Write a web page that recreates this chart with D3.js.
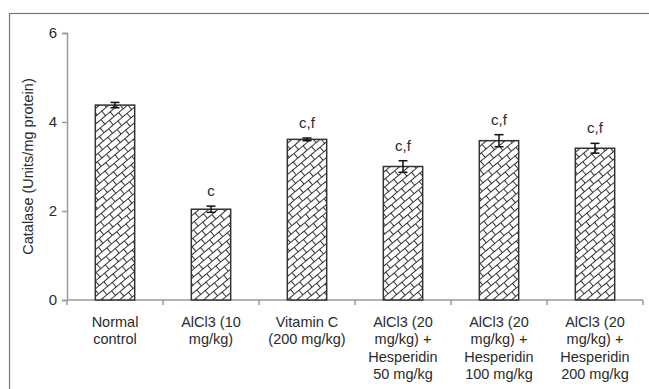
<!DOCTYPE html>
<html lang="en">
<head>
<meta charset="UTF-8">
<title>Catalase</title>
<script src="https://d3js.org/d3.v7.min.js"></script>
<style>
    body { margin: 0; background: #fff; }
    svg { display: block; font-family: "Liberation Sans", Arial, sans-serif; }
</style>
</head>
<body>
<svg id="chart" width="649" height="389"></svg>
<script>
    // data
    const groups = [
        ["Normal", "control"],
        ["AlCl3 (10", "mg/kg)"],
        ["Vitamin C", "(200 mg/kg)"],
        ["AlCl3 (20", "mg/kg) +", "Hesperidin", "50 mg/kg"],
        ["AlCl3 (20", "mg/kg) +", "Hesperidin", "100 mg/kg"],
        ["AlCl3 (20", "mg/kg) +", "Hesperidin", "200 mg/kg"]
    ];
    const means = [4.38, 2.04, 3.61, 3.00, 3.58, 3.41];
    const errors = [0.06, 0.07, 0.03, 0.13, 0.135, 0.11];
    const letters = ["", "c", "c,f", "c,f", "c,f", "c,f"];
    const yTicks = [0, 2, 4, 6];

    const svg = d3.select("#chart");
    const axisGrey = "#9a9a9a";
    const textCol = "#2b2b2b";

    // outer frame
    svg.append("rect")
        .attr("x", 9.5).attr("y", 13.5)
        .attr("width", 700).attr("height", 420)
        .attr("fill", "none")
        .attr("stroke", "#777")
        .attr("stroke-width", 1.2);

    // brick hatch pattern
    const pat = svg.append("defs").append("pattern")
        .attr("id", "brick")
        .attr("patternUnits", "userSpaceOnUse")
        .attr("width", 12).attr("height", 12)
        .attr("patternTransform", "rotate(-40)");
    pat.append("rect").attr("width", 12).attr("height", 12).attr("fill", "#fff");
    pat.append("path")
        .attr("d", "M0,0.5H12M0,6.5H12M0.5,0.5V6.5M6.5,6.5V12")
        .attr("stroke", "#333")
        .attr("stroke-width", 1)
        .attr("fill", "none");

    const x = d3.scaleBand()
        .domain(d3.range(groups.length))
        .range([67, 643])
        .paddingInner(0.59)
        .paddingOuter(0.295);

    const y = d3.scaleLinear().domain([0, 6]).range([300, 33]);

    // y axis
    const yAxis = svg.append("g")
        .attr("transform", "translate(67,0)")
        .call(d3.axisLeft(y).tickValues(yTicks).tickFormat(d3.format("d")).tickSize(5).tickPadding(5));
    yAxis.select(".domain").attr("stroke", axisGrey).attr("stroke-width", 1.5);
    yAxis.selectAll(".tick line").attr("stroke", axisGrey).attr("stroke-width", 1.5);
    yAxis.selectAll(".tick text").attr("fill", textCol)
        .style("font-size", "15px").style("font-family", "'Liberation Sans', Arial, sans-serif");

    // x axis with ticks at category boundaries
    const bounds = d3.range(groups.length + 1).map(i => 67 + i * x.step());
    svg.append("line")
        .attr("x1", 67).attr("x2", 643)
        .attr("y1", 300).attr("y2", 300)
        .attr("stroke", axisGrey).attr("stroke-width", 1.5);
    svg.selectAll(".xtick")
        .data(bounds)
        .join("line")
        .attr("class", "xtick")
        .attr("x1", d => d).attr("x2", d => d)
        .attr("y1", 300).attr("y2", 305)
        .attr("stroke", axisGrey).attr("stroke-width", 1.5);

    // x labels
    const labels = svg.selectAll(".xlabel")
        .data(groups)
        .join("text")
        .attr("class", "xlabel")
        .attr("text-anchor", "middle")
        .attr("fill", textCol)
        .style("font-size", "14.5px");
    labels.selectAll("tspan")
        .data((d, i) => d.map(t => ({ t, i })))
        .join("tspan")
        .attr("x", d => x(d.i) + x.bandwidth() / 2)
        .attr("y", (d, j) => 327 + j * 17.4)
        .text(d => d.t);

    // y title
    svg.append("text")
        .attr("transform", `translate(28,${(y(0) + y(6)) / 2}) rotate(-90)`)
        .attr("text-anchor", "middle")
        .attr("dy", "0.35em")
        .attr("fill", textCol)
        .style("font-size", "14.5px")
        .text("Catalase (Units/mg protein)");

    // bars
    svg.selectAll(".bar")
        .data(means)
        .join("rect")
        .attr("class", "bar")
        .attr("x", (d, i) => x(i))
        .attr("y", d => y(d))
        .attr("width", x.bandwidth())
        .attr("height", d => y(0) - y(d))
        .attr("fill", "url(#brick)")
        .attr("stroke", "#333")
        .attr("stroke-width", 1.5);

    // error bars
    const eb = svg.selectAll(".err")
        .data(means.map((m, i) => ({ m, e: errors[i], i })))
        .join("g")
        .attr("class", "err")
        .attr("stroke", "#111")
        .attr("stroke-width", 1.5);
    const cx = d => x(d.i) + x.bandwidth() / 2;
    eb.append("line")
        .attr("x1", cx).attr("x2", cx)
        .attr("y1", d => y(d.m + d.e)).attr("y2", d => y(d.m - d.e));
    eb.append("line")
        .attr("x1", d => cx(d) - 4.5).attr("x2", d => cx(d) + 4.5)
        .attr("y1", d => y(d.m + d.e)).attr("y2", d => y(d.m + d.e));
    eb.append("line")
        .attr("x1", d => cx(d) - 4.5).attr("x2", d => cx(d) + 4.5)
        .attr("y1", d => y(d.m - d.e)).attr("y2", d => y(d.m - d.e));

    // significance letters
    svg.selectAll(".sig")
        .data(means)
        .join("text")
        .attr("class", "sig")
        .attr("x", (d, i) => x(i) + x.bandwidth() / 2)
        .attr("y", (d, i) => y(d + errors[i]) - 10)
        .attr("text-anchor", "middle")
        .attr("fill", textCol)
        .style("font-size", "15px")
        .text((d, i) => letters[i]);
</script>
</body>
</html>
